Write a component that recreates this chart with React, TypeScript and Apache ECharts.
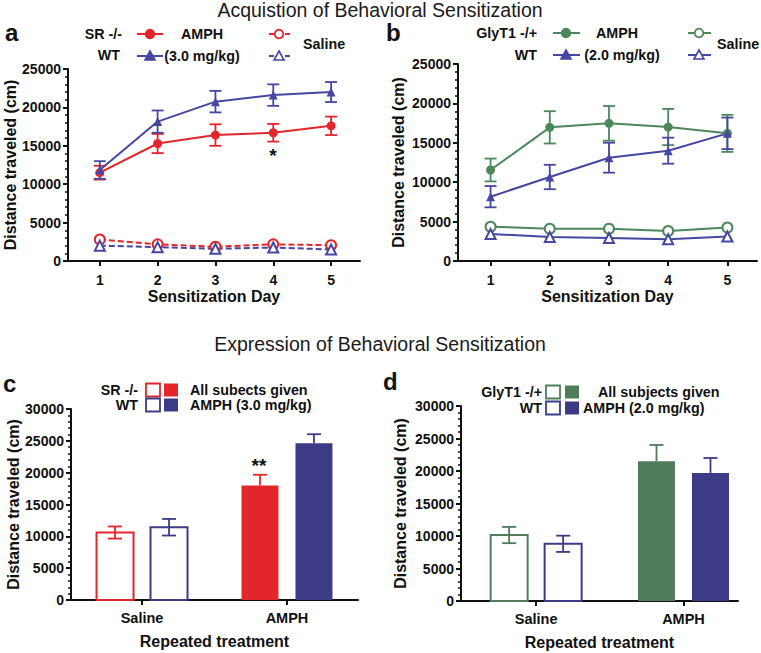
import React, { useEffect, useRef } from "react";
import * as echarts from "echarts";

const days = [1, 2, 3, 4, 5];
// Panel a
const aSrAmph = [11500, 15300, 16400, 16700, 17600];
const aSrAmphErr = [900, 1250, 1400, 1150, 1200];
const aWtAmph = [11850, 18150, 20750, 21600, 22000];
const aWtAmphErr = [1150, 1450, 1400, 1400, 1300];
const aSrSal = [2800, 2170, 1860, 2170, 2050];
const aWtSal = [2000, 1800, 1600, 1750, 1500];
// Panel b
const bGlyAmph = [11550, 16960, 17470, 17000, 16200];
const bGlyAmphErr = [1450, 2050, 2200, 2300, 2350];
const bWtAmph = [8160, 10660, 13110, 14000, 16200];
const bWtAmphErr = [1350, 1550, 1900, 1650, 2000];
const bGlySal = [4350, 4100, 4100, 3800, 4250];
const bWtSal = [3430, 3050, 2920, 2750, 3100];
// Panels c, d
const treatments = ["Saline", "AMPH"];
const cSr = [10600, 17970];
const cSrErr = [950, 1700];
const cWt = [11430, 24640];
const cWtErr = [1300, 1400];
const dGly = [10150, 21500];
const dGlyErr = [1250, 2500];
const dWt = [8800, 19700];
const dWtErr = [1250, 2300];

const FONT = "Liberation Sans";
const RED = "#e2262c";
const BLUE_L = "#4646a3";
const BLUE_B = "#3d3b86";
const GREEN_L = "#4d875c";
const GREEN_B = "#4f7d5b";
const INK = "#111";

const tickFont = { fontFamily: FONT, fontWeight: "bold" as const, fontSize: 14, color: INK };
const nameFont = { fontFamily: FONT, fontWeight: "bold" as const, fontSize: 16, color: INK };

function yAxis(gi: number, max: number, gap: number) {
  return {
    gridIndex: gi,
    type: "value",
    min: 0,
    max,
    interval: 5000,
    axisLine: { show: true, onZero: false, lineStyle: { color: INK, width: 2 } },
    axisTick: { show: true, length: 5, lineStyle: { color: INK, width: 2 } },
    minorTick: { show: true, splitNumber: 5, length: 3, lineStyle: { color: INK, width: 1.5 } },
    axisLabel: { ...tickFont, margin: 7, formatter: (v: number) => String(v) },
    splitLine: { show: false },
    name: "Distance traveled (cm)",
    nameLocation: "middle",
    nameGap: gap,
    nameTextStyle: nameFont,
  };
}

function xDayAxis(gi: number) {
  return {
    gridIndex: gi,
    type: "value",
    min: 0.45,
    max: 5.5,
    axisLine: { show: true, onZero: false, lineStyle: { color: INK, width: 2 } },
    axisTick: { show: true, customValues: days, length: 5, lineStyle: { color: INK, width: 2 } },
    axisLabel: { ...tickFont, customValues: days, margin: 12 },
    splitLine: { show: false },
    name: "Sensitization Day",
    nameLocation: "middle",
    nameGap: 27,
    nameTextStyle: nameFont,
  };
}

function xTreatAxis(gi: number, min: number, max: number) {
  return {
    gridIndex: gi,
    type: "value",
    min,
    max,
    axisLine: { show: true, onZero: false, lineStyle: { color: INK, width: 2 } },
    axisTick: { show: true, customValues: [0, 1], length: 5, lineStyle: { color: INK, width: 2 } },
    axisLabel: {
      ...tickFont,
      fontSize: 14.5,
      customValues: [0, 1],
      margin: 10,
      formatter: (v: number) => treatments[Math.round(v)] ?? "",
    },
    splitLine: { show: false },
    name: "Repeated treatment",
    nameLocation: "middle",
    nameGap: 33,
    nameTextStyle: nameFont,
  };
}

function lineSeries(gi: number, vals: number[], color: string, symbol: string, size: number, dashed: boolean) {
  return {
    type: "line",
    xAxisIndex: gi,
    yAxisIndex: gi,
    data: days.map((d, i) => [d, vals[i]]),
    symbol,
    symbolSize: size,
    showSymbol: true,
    showAllSymbol: true,
    lineStyle: { color, width: 2, type: dashed ? [6, 3] : "solid" },
    itemStyle: { color, borderWidth: 1.8 },
    z: 3,
  };
}

function errSeries(gi: number, vals: number[], errs: number[], color: string) {
  return {
    type: "custom",
    xAxisIndex: gi,
    yAxisIndex: gi,
    data: days.map((d, i) => [d, vals[i] - errs[i], vals[i] + errs[i]]),
    renderItem: (_p: any, api: any) => {
      const x = api.value(0);
      const top = api.coord([x, api.value(2)]);
      const bot = api.coord([x, api.value(1)]);
      const st = { stroke: color, lineWidth: 1.8 };
      return {
        type: "group",
        children: [
          { type: "line", shape: { x1: top[0], y1: top[1], x2: bot[0], y2: bot[1] }, style: st },
          { type: "line", shape: { x1: top[0] - 6, y1: top[1], x2: top[0] + 6, y2: top[1] }, style: st },
          { type: "line", shape: { x1: bot[0] - 6, y1: bot[1], x2: bot[0] + 6, y2: bot[1] }, style: st },
        ],
      };
    },
    z: 2,
  };
}

function barSeries(gi: number, vals: number[], errs: number[], color: string, filled: boolean, offset: number) {
  return {
    type: "custom",
    xAxisIndex: gi,
    yAxisIndex: gi,
    data: vals.map((v, i) => [i, v, errs[i]]),
    renderItem: (_p: any, api: any) => {
      const cat = api.value(0);
      const v = api.value(1);
      const e = api.value(2);
      const topP = api.coord([cat, v]);
      const base = api.coord([cat, 0]);
      const up = api.coord([cat, v + e]);
      const dn = api.coord([cat, v - e]);
      const cx = topP[0] + offset;
      const w = 37;
      const st = { stroke: color, lineWidth: 1.8 };
      const children: any[] = [
        {
          type: "rect",
          shape: { x: cx - w / 2, y: topP[1], width: w, height: base[1] - topP[1] },
          style: { fill: filled ? color : "#fff", stroke: color, lineWidth: filled ? 0 : 2 },
        },
        { type: "line", shape: { x1: cx, y1: topP[1], x2: cx, y2: up[1] }, style: st },
        { type: "line", shape: { x1: cx - 7, y1: up[1], x2: cx + 7, y2: up[1] }, style: st },
      ];
      if (!filled) {
        children.push({ type: "line", shape: { x1: cx, y1: topP[1], x2: cx, y2: dn[1] }, style: st });
        children.push({ type: "line", shape: { x1: cx - 7, y1: dn[1], x2: cx + 7, y2: dn[1] }, style: st });
      }
      return { type: "group", children };
    },
    z: 2,
  };
}

function txt(x: number, y: number, text: string, opts: any = {}) {
  return {
    type: "text",
    x,
    y,
    z: 10,
    style: {
      text,
      fontFamily: FONT,
      fontWeight: opts.weight ?? "bold",
      fontSize: opts.size ?? 14.3,
      fill: opts.fill ?? INK,
      align: opts.align ?? "left",
      verticalAlign: "middle",
    },
  };
}

function legLine(x1: number, x2: number, y: number, color: string, dashed: boolean) {
  return {
    type: "line",
    z: 10,
    shape: { x1, y1: y, x2, y2: y },
    style: { stroke: color, lineWidth: 2, lineDash: dashed ? [5, 3] : null },
  };
}
function legCircle(x: number, y: number, color: string, filled: boolean) {
  return {
    type: "circle",
    z: 11,
    shape: { cx: x, cy: y, r: 4.3 },
    style: { fill: filled ? color : "#fff", stroke: color, lineWidth: 1.8 },
  };
}
function legTri(x: number, y: number, color: string, filled: boolean) {
  return {
    type: "polygon",
    z: 11,
    shape: { points: [[x, y - 5], [x + 5, y + 4], [x - 5, y + 4]] },
    style: { fill: filled ? color : "#fff", stroke: color, lineWidth: 1.6 },
  };
}
function legSq(x: number, y: number, color: string, filled: boolean) {
  return {
    type: "rect",
    z: 11,
    shape: { x: x, y: y - 6.5, width: 14, height: 13 },
    style: { fill: filled ? color : "#fff", stroke: color, lineWidth: filled ? 0 : 1.8 },
  };
}

export default function App() {
  const ref = useRef<HTMLDivElement>(null);
  useEffect(() => {
    if (!ref.current) return;
    const chart = echarts.init(ref.current, null, { renderer: "svg" });
    const series: any[] = [
      errSeries(0, aSrAmph, aSrAmphErr, RED),
      errSeries(0, aWtAmph, aWtAmphErr, BLUE_L),
      lineSeries(0, aSrSal, RED, "emptyCircle", 10, true),
      lineSeries(0, aWtSal, BLUE_L, "emptyTriangle", 10, true),
      lineSeries(0, aSrAmph, RED, "circle", 9, false),
      lineSeries(0, aWtAmph, BLUE_L, "triangle", 9, false),
      errSeries(1, bGlyAmph, bGlyAmphErr, GREEN_L),
      errSeries(1, bWtAmph, bWtAmphErr, BLUE_L),
      lineSeries(1, bGlySal, GREEN_L, "emptyCircle", 10, false),
      lineSeries(1, bWtSal, BLUE_L, "emptyTriangle", 10, false),
      lineSeries(1, bGlyAmph, GREEN_L, "circle", 9, false),
      lineSeries(1, bWtAmph, BLUE_L, "triangle", 9, false),
      // open saline bars
      barSeries(2, [cSr[0], NaN], [cSrErr[0], 0], RED, false, -27),
      barSeries(2, [cWt[0], NaN], [cWtErr[0], 0], BLUE_B, false, 27),
      barSeries(3, [dGly[0], NaN], [dGlyErr[0], 0], GREEN_B, false, -27),
      barSeries(3, [dWt[0], NaN], [dWtErr[0], 0], BLUE_B, false, 27),
      // filled AMPH bars
      barSeries(2, [NaN, cSr[1]], [0, cSrErr[1]], RED, true, -27),
      barSeries(2, [NaN, cWt[1]], [0, cWtErr[1]], BLUE_B, true, 27),
      barSeries(3, [NaN, dGly[1]], [0, dGlyErr[1]], GREEN_B, true, -27),
      barSeries(3, [NaN, dWt[1]], [0, dWtErr[1]], BLUE_B, true, 27),
    ];
    const option: any = {
      animation: false,
      backgroundColor: "#fff",
      grid: [
        { left: 68, top: 69, width: 292, height: 192 },
        { left: 458, top: 64, width: 299, height: 197 },
        { left: 71, top: 409, width: 287, height: 191 },
        { left: 461, top: 406, width: 277, height: 195 },
      ],
      xAxis: [xDayAxis(0), xDayAxis(1), xTreatAxis(2, -0.49, 1.49), xTreatAxis(3, -0.51, 1.37)],
      yAxis: [yAxis(0, 25000, 45), yAxis(1, 25000, 52), yAxis(2, 30000, 47), yAxis(3, 30000, 53)],
      series,
      graphic: [
        txt(380, 10, "Acquistion of Behavioral Sensitization", { weight: "normal", size: 19.5, align: "center", fill: "#1a1a1a" }),
        txt(380, 344, "Expression of Behavioral Sensitization", { weight: "normal", size: 19.5, align: "center", fill: "#1a1a1a" }),
        txt(5, 32, "a", { size: 24 }),
        txt(386, 32, "b", { size: 24 }),
        txt(3, 383, "c", { size: 24 }),
        txt(383, 381, "d", { size: 24 }),
        // legend a
        txt(122, 34, "SR -/-", { align: "right" }),
        txt(120, 55, "WT", { align: "right" }),
        legLine(137, 163, 34, RED, false),
        legCircle(150, 34, RED, true),
        legLine(137, 163, 56, BLUE_L, false),
        legTri(150, 56, BLUE_L, true),
        txt(202, 34, "AMPH", { align: "center" }),
        txt(202, 56, "(3.0 mg/kg)", { align: "center" }),
        legLine(269, 291, 34, RED, true),
        legCircle(279, 34, RED, false),
        legLine(269, 291, 56, BLUE_L, true),
        legTri(279, 56, BLUE_L, false),
        txt(303, 44, "Saline"),
        // legend b
        txt(537, 33, "GlyT1 -/+", { align: "right" }),
        txt(537, 55, "WT", { align: "right" }),
        legLine(553, 580, 33, GREEN_L, false),
        legCircle(566, 33, GREEN_L, true),
        legLine(553, 580, 55, BLUE_L, false),
        legTri(566, 55, BLUE_L, true),
        txt(617, 33, "AMPH", { align: "center" }),
        txt(622, 55, "(2.0 mg/kg)", { align: "center" }),
        legLine(688, 711, 33, GREEN_L, false),
        legCircle(699, 33, GREEN_L, false),
        legLine(688, 711, 55, BLUE_L, false),
        legTri(699, 55, BLUE_L, false),
        txt(717, 44, "Saline"),
        // legend c
        txt(138, 390, "SR -/-", { align: "right" }),
        txt(138, 405, "WT", { align: "right" }),
        legSq(146, 390, RED, false),
        legSq(164, 390, RED, true),
        legSq(146, 405, BLUE_B, false),
        legSq(164, 405, BLUE_B, true),
        txt(190, 390, "All subects given"),
        txt(190, 405, "AMPH (3.0 mg/kg)"),
        // legend d
        txt(542, 392, "GlyT1 -/+", { align: "right" }),
        txt(542, 408, "WT", { align: "right" }),
        legSq(546, 392, GREEN_B, false),
        legSq(565, 392, GREEN_B, true),
        legSq(546, 408, BLUE_B, false),
        legSq(565, 408, BLUE_B, true),
        txt(598, 392, "All subjects given"),
        txt(583, 408, "AMPH (2.0 mg/kg)"),
        // significance marks
        txt(273, 155, "*", { size: 19, align: "center" }),
        txt(259, 465, "**", { size: 19, align: "center" }),
      ],
    };
    chart.setOption(option);
    return () => chart.dispose();
  }, []);
  return (
    <div
      ref={ref}
      style={{ position: "absolute", left: 0, top: 0, width: 761, height: 653, background: "#fff" }}
    />
  );
}
